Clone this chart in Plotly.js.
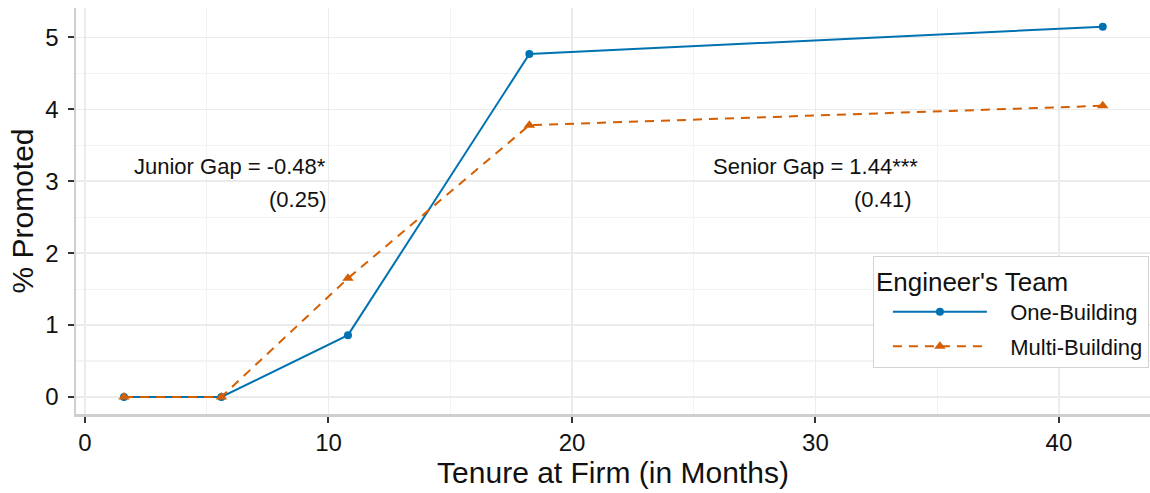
<!DOCTYPE html>
<html>
<head>
<meta charset="utf-8">
<script src="https://cdn.plot.ly/plotly-3.0.1.min.js"></script>
<style>
  html, body { margin: 0; padding: 0; background: #fff; }
  #chart { width: 1150px; height: 493px; }
</style>
</head>
<body>
<div id="chart"></div>
<script>
// Promotion rate by tenure, split by the engineer's team layout
const tenureMonths = [1.6, 5.6, 10.8, 18.25, 41.8];
const oneBuilding = [0, 0, 0.86, 4.77, 5.15];
const multiBuilding = [0, 0, 1.65, 3.78, 4.05];
const seriesNames = ['One-Building', 'Multi-Building'];

// Gap estimates and their standard errors
const gapLabels = ['Junior Gap = -0.48*', 'Senior Gap = 1.44***'];
const seLabels = ['(0.25)', '(0.41)'];
const gapAnchorX = [10, 34];

const xTicks = [0, 10, 20, 30, 40];
const yTicks = [0, 1, 2, 3, 4, 5];

const FONT = 'Liberation Sans, Arial, Helvetica, sans-serif';
const BLUE = '#0072B2';
const ORANGE = '#D55E00';
const NBSP = '\u00a0';

const traces = [
  {
    x: tenureMonths, y: oneBuilding, name: NBSP.repeat(3) + seriesNames[0],
    type: 'scatter', mode: 'lines+markers',
    legendgroup: 'one',
    line: { color: BLUE, width: 2 },
    marker: { color: BLUE, size: 8, symbol: 'circle' }
  },
  {
    x: tenureMonths, y: multiBuilding, name: NBSP.repeat(3) + seriesNames[1],
    type: 'scatter', mode: 'lines+markers',
    legendgroup: 'multi',
    line: { color: ORANGE, width: 2, dash: '9px,7px' },
    marker: { color: ORANGE, size: 10, symbol: 'triangle-up' }
  }
];

const annotations = [];
gapLabels.forEach((txt, i) => {
  annotations.push({
    x: gapAnchorX[i], y: 3.2, xref: 'x', yref: 'y',
    text: txt, showarrow: false, xanchor: 'right', yanchor: 'middle',
    xshift: i === 1 ? 7 : 0,
    font: { family: FONT, size: 22, color: '#111' }
  });
  annotations.push({
    x: gapAnchorX[i], y: 2.75, xref: 'x', yref: 'y',
    text: seLabels[i], showarrow: false, xanchor: 'right', yanchor: 'middle',
    font: { family: FONT, size: 22, color: '#111' }
  });
});

const axisCommon = {
  showgrid: true, gridcolor: '#ebebeb', gridwidth: 1.6,
  zeroline: false,
  showline: true, linecolor: '#cfcfcf', linewidth: 2.5,
  ticks: 'outside', ticklen: 6, tickwidth: 2, tickcolor: '#333',
  tickfont: { family: FONT, size: 24, color: '#111' },
  fixedrange: true
};

const layout = {
  width: 1150, height: 493,
  margin: { l: 76, r: 0, t: 8, b: 79, autoexpand: false },
  paper_bgcolor: '#fff', plot_bgcolor: '#fff',
  font: { family: FONT, color: '#111' },
  xaxis: Object.assign({}, axisCommon, {
    range: [-0.37, 43.74],
    tickvals: xTicks, ticktext: xTicks.map(String),
    minor: { dtick: 5, tick0: 0, showgrid: true, gridcolor: '#f3f3f3', gridwidth: 1.2 },
    ticklabelstandoff: 0,
    title: { text: 'Tenure at Firm (in Months)', font: { family: FONT, size: 30, color: '#111' }, standoff: 1 }
  }),
  yaxis: Object.assign({}, axisCommon, {
    range: [-0.237, 5.41],
    tickvals: yTicks, ticktext: yTicks.map(String),
    minor: { dtick: 0.5, tick0: 0, showgrid: true, gridcolor: '#f3f3f3', gridwidth: 1.2 },
    ticklabelstandoff: 4,
    title: { text: '% Promoted', font: { family: FONT, size: 30, color: '#111' }, standoff: 3 }
  }),
  shapes: [
    { type: 'line', xref: 'paper', yref: 'y', x0: 0, x1: 1, y0: 0, y1: 0,
      line: { color: '#808080', width: 2 }, layer: 'below' }
  ],
  annotations: annotations,
  showlegend: true,
  legend: {
    x: 0.742, y: 0.389, xanchor: 'left', yanchor: 'top',
    bgcolor: '#fff', bordercolor: '#d4d4d4', borderwidth: 1,
    title: { text: "Engineer's Team", font: { family: FONT, size: 26, color: '#111' } },
    font: { family: FONT, size: 22, color: '#111' },
    itemwidth: 94,
    indentation: 14,
    tracegroupgap: 3
  }
};

Plotly.newPlot('chart', traces, layout, { displayModeBar: false, staticPlot: true });
</script>
</body>
</html>
